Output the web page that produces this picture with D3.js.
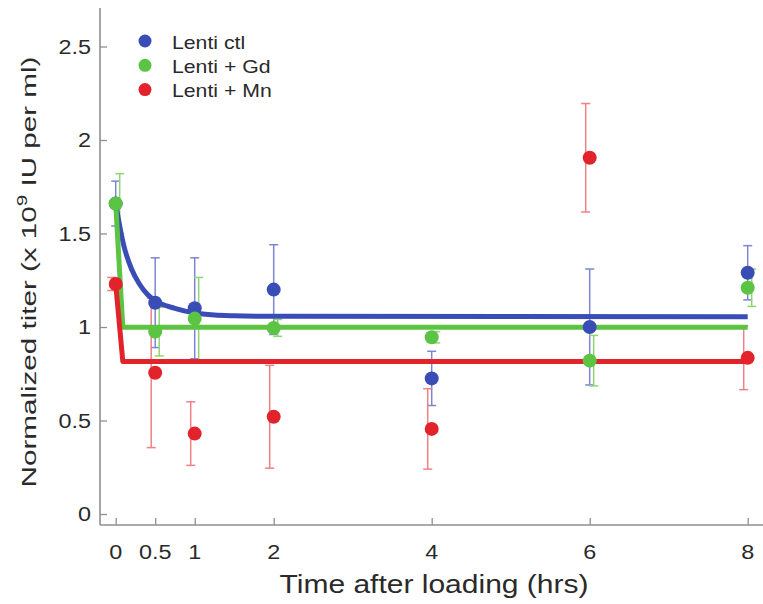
<!DOCTYPE html>
<html>
<head>
<meta charset="utf-8">
<script src="https://cdn.jsdelivr.net/npm/d3@7"></script>
<style>
  html, body { margin: 0; padding: 0; background: #fff; }
  svg { display: block; font-family: "Liberation Sans", Arial, Helvetica, sans-serif; }
</style>
</head>
<body>
<svg id="chart" width="763" height="604"></svg>
<script>
// ---------- data ----------
const times = [0, 0.5, 1, 2, 4, 6, 8];
const xTickValues = [0, 0.5, 1, 2, 4, 6, 8];
const xTickLabels = ["0", "0.5", "1", "2", "4", "6", "8"];
const yTickValues = [0, 0.5, 1, 1.5, 2, 2.5];
const yTickLabels = ["0", "0.5", "1", "1.5", "2", "2.5"];

const seriesNames = ["Lenti ctl", "Lenti + Gd", "Lenti + Mn"];

const ctlMean = [1.66, 1.13, 1.10, 1.20, 0.725, 1.00, 1.29];
const ctlErr  = [0.12, 0.24, 0.27, 0.24, 0.145, 0.31, 0.145];
const gdMean  = [1.66, 0.975, 1.045, 0.995, 0.945, 0.82, 1.21];
const gdErr   = [0.16, 0.13, 0.22, 0.045, 0.03, 0.135, 0.10];
const mnMean  = [1.23, 0.755, 0.43, 0.52, 0.455, 1.905, 0.835];
const mnErr   = [0.035, 0.40, 0.17, 0.275, 0.215, 0.29, 0.17];

// fitted curves
const ctlFitT = [0, 0.1, 0.2, 0.3, 0.4, 0.5, 0.75, 1, 1.25, 1.5, 2, 8];
const ctlFitV = [1.66, 1.44, 1.31, 1.23, 1.175, 1.14, 1.10, 1.075, 1.064, 1.06, 1.057, 1.055];
const gdFitT  = [0, 0.09, 8];
const gdFitV  = [1.66, 0.998, 0.998];
const mnFitT  = [0, 0.09, 8];
const mnFitV  = [1.23, 0.815, 0.815];

// ---------- styles ----------
const colors    = ["#3a4db6", "#5cc443", "#e2232b"];
const errColors = ["#7d86d2", "#8ed673", "#ee8184"];
const errOffset = [0, 4, -4];

const svg = d3.select("#chart");
const x = d3.scaleLinear().domain([0, 8]).range([115.7, 747.7]);
const y = d3.scaleLinear().domain([0, 2.5]).range([514, 46.5]);

const axisColor = "#8f8f8f";
const textColor = "#2a2a2a";

// axes lines
svg.append("line").attr("x1", 100).attr("x2", 100).attr("y1", 8).attr("y2", 525)
  .attr("stroke", axisColor).attr("stroke-width", 1.6);
svg.append("line").attr("x1", 100).attr("x2", 763).attr("y1", 525).attr("y2", 525)
  .attr("stroke", axisColor).attr("stroke-width", 1.6);

// y axis via d3 axis (ticks inward)
const yAxis = d3.axisRight(y).tickValues(yTickValues).tickSize(7).tickFormat("");
const yg = svg.append("g").attr("transform", "translate(100,0)").call(yAxis);
yg.select(".domain").remove();
yg.selectAll(".tick line").attr("stroke", axisColor).attr("stroke-width", 1.3);

// x axis via d3 axis (ticks inward)
const xAxis = d3.axisTop(x).tickValues(xTickValues).tickSize(7).tickFormat("");
const xg = svg.append("g").attr("transform", "translate(0,525)").call(xAxis);
xg.select(".domain").remove();
xg.selectAll(".tick line").attr("stroke", axisColor).attr("stroke-width", 1.3);

// tick labels (horizontally stretched like the reference)
yTickValues.forEach((v, i) => {
  svg.append("text")
    .attr("transform", `translate(91,${y(v) + 7}) scale(1.2,1)`)
    .attr("text-anchor", "end")
    .attr("font-size", 19.5)
    .attr("fill", textColor)
    .text(yTickLabels[i]);
});
xTickValues.forEach((v, i) => {
  svg.append("text")
    .attr("transform", `translate(${x(v)},559) scale(1.2,1)`)
    .attr("text-anchor", "middle")
    .attr("font-size", 19.5)
    .attr("fill", textColor)
    .text(xTickLabels[i]);
});

// axis titles
svg.append("text")
  .attr("transform", "translate(434,593) scale(1.2,1)")
  .attr("text-anchor", "middle")
  .attr("font-size", 25)
  .attr("fill", textColor)
  .text("Time after loading (hrs)");

const yt = svg.append("text")
  .attr("transform", "translate(36,272) rotate(-90) scale(1.48,1)")
  .attr("text-anchor", "middle")
  .attr("font-size", 20)
  .attr("fill", textColor);
yt.append("tspan").text("Normalized titer (x 10");
yt.append("tspan").attr("dy", -9).attr("font-size", 14).text("9");
yt.append("tspan").attr("dy", 9).text(" IU per ml)");

// ---------- series ----------
const series = [
  { mean: ctlMean, err: ctlErr, fitT: ctlFitT, fitV: ctlFitV, curve: d3.curveMonotoneX },
  { mean: gdMean,  err: gdErr,  fitT: gdFitT,  fitV: gdFitV,  curve: d3.curveLinear },
  { mean: mnMean,  err: mnErr,  fitT: mnFitT,  fitV: mnFitV,  curve: d3.curveLinear }
];

// error bars
series.forEach((s, si) => {
  const g = svg.append("g").attr("stroke", errColors[si]).attr("stroke-width", 1.5).attr("fill", "none");
  times.forEach((t, i) => {
    const cx = x(t) + errOffset[si];
    const y1 = y(s.mean[i] + s.err[i]);
    const y2 = y(s.mean[i] - s.err[i]);
    g.append("line").attr("x1", cx).attr("x2", cx).attr("y1", y1).attr("y2", y2);
    g.append("line").attr("x1", cx - 4.5).attr("x2", cx + 4.5).attr("y1", y1).attr("y2", y1);
    g.append("line").attr("x1", cx - 4.5).attr("x2", cx + 4.5).attr("y1", y2).attr("y2", y2);
  });
});

// fitted lines
series.forEach((s, si) => {
  const pts = s.fitT.map((t, i) => [t, s.fitV[i]]);
  const line = d3.line().x(d => x(d[0])).y(d => y(d[1])).curve(s.curve);
  svg.append("path").datum(pts).attr("d", line)
    .attr("fill", "none").attr("stroke", colors[si]).attr("stroke-width", 5)
    .attr("stroke-linejoin", "round").attr("stroke-linecap", "butt");
});

// markers
series.forEach((s, si) => {
  svg.append("g").selectAll("circle").data(times).join("circle")
    .attr("cx", d => x(d))
    .attr("cy", (d, i) => y(s.mean[i]))
    .attr("r", 7)
    .attr("fill", colors[si]);
});

// legend
seriesNames.forEach((name, i) => {
  const ly = 41 + i * 24.3;
  svg.append("circle").attr("cx", 145).attr("cy", ly).attr("r", 6.5).attr("fill", colors[i]);
  svg.append("text")
    .attr("transform", `translate(172,${ly + 7.5}) scale(1.18,1)`)
    .attr("font-size", 18)
    .attr("fill", textColor)
    .text(name);
});
</script>
</body>
</html>
